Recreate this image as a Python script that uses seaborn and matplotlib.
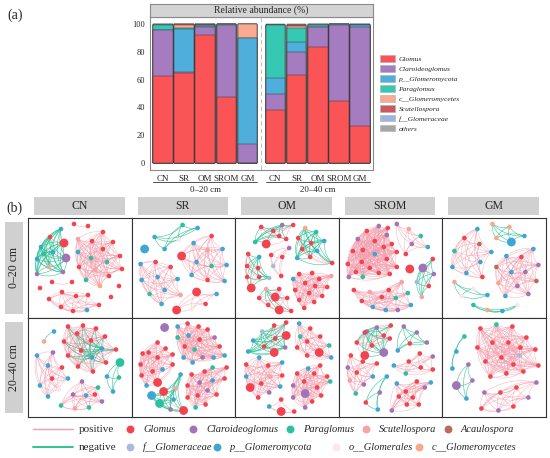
import matplotlib
matplotlib.use('Agg')
import matplotlib.pyplot as plt
from matplotlib.collections import LineCollection
import seaborn as sns
import pandas as pd
import numpy as np

# ---------------- panel (a) data ----------------
treatments = ['CN', 'SR', 'OM', 'SROM', 'GM']
depths = ['0–20 cm', '20–40 cm']
taxa_a = ['Glomus', 'Claroideoglomus', 'p__Glomeromycota', 'Paraglomus',
          'c__Glomeromycetes', 'Scutellospora', 'f__Glomeraceae', 'others']
# first five bars 0–20 cm, last five 20–40 cm
glomus = [62.6, 64.7, 92.3, 47.5, 0.3, 38.0, 63.5, 83.6, 44.5, 26.8]
claroideoglomus = [33.1, 0.4, 5.6, 52.0, 13.4, 11.3, 16.4, 14.3, 55.0, 71.2]
p_glomeromycota = [0.3, 31.1, 0.3, 0.1, 76.0, 11.7, 6.8, 0.2, 0.1, 1.2]
paraglomus = [3.3, 1.2, 1.3, 0.1, 0.0, 38.0, 10.7, 1.3, 0.1, 0.1]
c_glomeromycetes = [0.2, 2.1, 0.1, 0.1, 10.2, 0.3, 1.0, 0.1, 0.1, 0.1]
scutellospora = [0.1, 0.3, 0.1, 0.1, 0.0, 0.2, 1.1, 0.1, 0.0, 0.1]
f_glomeraceae = [0.1, 0.1, 0.1, 0.1, 0.0, 0.1, 0.1, 0.1, 0.1, 0.5]
others = [0.3, 0.1, 0.2, 0.1, 0.1, 0.4, 0.4, 0.3, 0.1, 0.0]
bar_colors = ['#FA5457', '#A57CC0', '#4FAEDB', '#35C9B4', '#F9AB92',
              '#C9595F', '#9CB4DF', '#A6A6A6']

# ---------------- panel (b) data ----------------
# node: (x, y, taxon, size, cluster) in cell pixel units; cluster '-' = no edges
taxa_b = {'G': ('Glomus', '#F2434F'), 'C': ('Claroideoglomus', '#A074B7'),
          'P': ('Paraglomus', '#2BBFA4'), 'S': ('Scutellospora', '#F7A2A4'),
          'A': ('Acaulospora', '#BA6A5E'), 'F': ('f__Glomeraceae', '#A9BADF'),
          'B': ('p__Glomeromycota', '#3EA6D2'), 'O': ('o__Glomerales', '#FCE6EA'),
          'M': ('c__Glomeromycetes', '#F7A98A')}

cn_top = [(33,11,'B',1,'A'),(22,19,'G',1,'A'),(36,25,'G',2,'A'),(13,29,'B',1,'A'),(25,34,'B',1,'A'),
          (16,36,'P',1,'A'),(9,41,'B',1,'A'),(21,49,'S',1,'A'),(9,56,'C',1,'A'),(35,54,'C',1,'A'),
          (38,40,'C',2,'A'),(46,6,'G',1,'T'),(60,8,'G',1,'T'),
          (75,14,'G',1,'B'),(50,21,'S',1,'B'),(64,23,'G',1,'B'),(85,24,'G',1,'B'),(50,34,'B',1,'B'),
          (75,31,'G',1,'B'),(63,40,'P',1,'B'),(92,38,'G',1,'B'),(79,44,'P',1,'B'),(51,49,'G',1,'B'),
          (67,52,'S',1,'B'),(94,51,'G',1,'B'),(81,58,'G',1,'B'),(58,62,'P',1,'B'),(72,68,'M',1,'B'),
          (12,70,'G',1,'-'),(24,64,'G',1,'L'),(44,64,'G',1,'L'),(91,68,'G',1,'-'),(83,79,'G',1,'-'),
          (34,74,'G',1,'C'),(48,78,'G',1,'C'),(60,77,'G',1,'C'),(21,81,'G',1,'C'),(71,87,'G',1,'C'),
          (33,89,'G',1,'C'),(45,93,'G',1,'C'),(59,92,'B',1,'C')]
sr_top = [(23,19,'B',1,'A'),(51,7,'P',1,'A'),(66,10,'B',1,'A'),(47,22,'O',1,'A'),(33,31,'B',1,'A'),
          (13,31,'B',2,'-'),
          (80,18,'G',1,'B'),(62,25,'B',1,'B'),(76,32,'S',1,'B'),(91,31,'B',1,'B'),(50,38,'G',2,'B'),
          (65,44,'B',1,'B'),(80,48,'P',1,'B'),(95,47,'B',1,'B'),(60,57,'B',1,'B'),(76,62,'G',1,'B'),
          (93,63,'B',1,'B'),
          (24,44,'G',1,'C'),(39,49,'G',1,'C'),(9,46,'B',1,'C'),(26,59,'B',1,'C'),(10,62,'B',1,'C'),
          (46,61,'B',1,'C'),(18,76,'P',1,'C'),(33,72,'B',1,'C'),(49,77,'S',1,'C'),(30,86,'B',1,'C'),
          (65,74,'G',2,'D'),(85,76,'B',1,'D'),(74,86,'G',1,'D'),(45,92,'G',2,'D'),(60,91,'O',1,'D')]
om_top = [(26,9,'G',1,'A'),(38,13,'G',1,'A'),(47,7,'C',1,'A'),(58,7,'G',1,'A'),(44,18,'G',1,'A'),
          (31,26,'G',2,'A'),(51,21,'G',1,'A'),(20,24,'P',1,'A'),
          (70,10,'M',1,'B'),(81,14,'P',1,'B'),(63,20,'G',1,'B'),(89,23,'B',1,'B'),(67,31,'G',1,'B'),
          (76,25,'G',1,'B'),(82,33,'B',1,'B'),(62,40,'B',1,'B'),(75,39,'G',1,'B'),(97,45,'G',1,'B'),
          (54,30,'C',1,'C'),(36,37,'G',1,'C'),(47,39,'G',1,'C'),(38,48,'F',1,'C'),(46,58,'G',1,'C'),
          (13,36,'G',1,'D'),(24,39,'B',1,'D'),(12,48,'G',1,'D'),(23,50,'G',1,'D'),(12,59,'G',1,'D'),
          (34,60,'F',1,'D'),(24,59,'G',1,'D'),(16,70,'G',2,'D'),
          (31,71,'S',1,'E'),(44,71,'G',1,'E'),(40,79,'G',2,'E'),(24,80,'G',1,'E'),(52,80,'G',1,'E'),
          (33,87,'G',1,'E'),(44,92,'G',2,'E'),(56,93,'G',1,'E'),
          (64,56,'G',1,'F'),(77,55,'G',1,'F'),(96,58,'S',1,'F'),(58,61,'B',1,'F'),(84,61,'G',1,'F'),
          (70,65,'G',1,'F'),(92,69,'G',1,'F'),(60,72,'G',1,'F'),(80,68,'G',1,'F'),(74,75,'G',1,'F'),
          (87,78,'G',1,'F'),(64,82,'G',1,'F'),(79,84,'G',1,'F'),(69,90,'G',1,'F')]
srom_top = [(28,13,'G',1,'A'),(40,8,'C',1,'A'),(49,10,'G',1,'A'),(19,21,'C',1,'A'),(36,23,'G',1,'A'),
            (48,17,'C',1,'A'),(14,33,'G',1,'A'),(24,32,'G',1,'A'),(45,29,'G',1,'A'),(53,26,'G',1,'A'),
            (58,34,'G',1,'A'),(36,36,'B',1,'A'),(9,46,'G',1,'A'),(23,44,'G',1,'A'),(48,41,'G',1,'A'),
            (58,49,'G',1,'A'),(17,54,'G',1,'A'),(31,50,'G',1,'A'),(40,55,'G',1,'A'),(10,59,'C',1,'A'),
            (24,59,'P',1,'A'),(51,56,'G',1,'A'),
            (58,6,'C',1,'B'),(70,11,'S',1,'B'),(82,18,'P',1,'B'),(73,26,'C',1,'B'),(89,29,'B',1,'B'),
            (67,36,'G',1,'B'),
            (84,50,'C',2,'C'),(94,41,'G',1,'C'),(95,56,'C',1,'C'),(78,64,'F',1,'C'),(90,68,'G',1,'C'),
            (83,79,'S',1,'C'),(71,51,'G',2,'-'),
            (15,72,'G',1,'D'),(31,74,'S',1,'D'),(23,83,'G',1,'D'),(43,79,'G',1,'D'),(63,64,'S',1,'D'),
            (50,72,'G',1,'D'),(57,80,'P',1,'D'),(69,75,'P',1,'D'),(34,89,'B',1,'D'),(47,92,'B',1,'D'),
            (59,92,'C',1,'D'),(72,87,'B',1,'D')]
gm_top = [(50,6,'M',1,'A'),(67,9,'M',1,'A'),(82,18,'B',1,'A'),(54,20,'M',1,'A'),(69,24,'B',2,'A'),
          (35,11,'B',1,'B'),(22,20,'G',1,'B'),(37,26,'A',1,'B'),(12,33,'P',1,'B'),(49,34,'B',1,'B'),
          (10,49,'B',1,'B'),(38,44,'B',1,'B'),(24,55,'B',1,'B'),(40,59,'G',1,'B'),
          (91,31,'B',1,'C'),(64,38,'B',1,'C'),(79,39,'G',1,'C'),(96,47,'C',1,'C'),(54,49,'A',1,'C'),
          (69,54,'B',1,'C'),(83,54,'C',1,'C'),(94,63,'A',1,'C'),(56,65,'M',1,'C'),(75,68,'C',1,'C'),
          (63,78,'B',1,'C'),(86,76,'C',1,'C'),
          (12,64,'M',1,'D'),(31,71,'O',1,'D'),(19,78,'O',1,'D'),(45,77,'B',1,'D'),
          (31,87,'P',1,'E'),(45,92,'M',1,'E'),(60,93,'B',1,'E'),(75,87,'O',1,'E')]
cn_bot = [(26,14,'B',1,'A'),(16,24,'M',1,'A'),
          (40,9,'G',1,'B'),(55,8,'G',1,'B'),(68,11,'G',1,'B'),(49,16,'G',1,'B'),(36,24,'G',1,'B'),
          (63,23,'G',1,'B'),(77,19,'G',1,'B'),(53,33,'G',1,'B'),(40,38,'G',1,'B'),(74,31,'B',1,'B'),
          (88,32,'G',1,'B'),(64,40,'B',1,'B'),(78,45,'G',1,'B'),(50,49,'G',1,'B'),(65,54,'G',1,'B'),
          (92,45,'P',2,'C'),(79,59,'B',1,'C'),(91,60,'P',1,'C'),(85,74,'B',1,'C'),
          (25,35,'C',1,'D'),(9,38,'B',1,'D'),(20,48,'B',1,'D'),(34,50,'G',1,'D'),(24,61,'G',1,'D'),
          (40,61,'B',1,'D'),(12,68,'B',1,'D'),(31,72,'O',1,'D'),(20,79,'B',1,'D'),
          (54,64,'C',1,'E'),(70,70,'P',1,'E'),(45,77,'C',1,'E'),(58,78,'B',1,'E'),(67,77,'G',1,'E'),
          (74,84,'C',1,'E'),(33,88,'P',1,'E'),(47,91,'S',1,'E'),(61,90,'P',1,'E')]
sr_bot = [(33,10,'C',2,'-'),
          (26,25,'G',1,'B'),(17,35,'G',1,'B'),(34,31,'G',1,'B'),(11,36,'G',1,'B'),(26,40,'G',1,'B'),
          (41,37,'G',1,'B'),(9,47,'G',1,'B'),(31,52,'B',1,'B'),(21,54,'G',1,'B'),(10,58,'G',1,'B'),
          (15,68,'B',1,'B'),(26,65,'G',2,'B'),(41,47,'G',1,'B'),
          (46,20,'P',1,'C'),(56,6,'G',1,'C'),(46,9,'B',1,'C'),(67,9,'G',1,'C'),(76,12,'G',1,'C'),
          (57,18,'B',1,'C'),(68,22,'G',1,'C'),(83,20,'C',1,'C'),(63,32,'P',1,'C'),(53,29,'G',1,'C'),
          (88,29,'G',1,'C'),(52,40,'B',1,'C'),(71,40,'C',1,'C'),(82,40,'B',1,'C'),(93,38,'B',1,'C'),
          (61,45,'B',1,'C'),
          (60,57,'G',1,'D'),(73,54,'G',1,'D'),(81,50,'P',1,'D'),(95,50,'G',1,'D'),(56,68,'G',1,'D'),
          (68,65,'C',1,'D'),(81,63,'B',1,'D'),(93,61,'G',1,'D'),(76,73,'C',1,'D'),(66,78,'G',1,'D'),
          (56,80,'G',1,'D'),(85,77,'G',1,'D'),(74,87,'G',1,'D'),(64,90,'P',1,'D'),
          (20,78,'B',2,'E'),(32,74,'G',2,'E'),(28,86,'P',2,'E'),(44,71,'S',1,'E'),(49,57,'B',1,'E'),
          (42,82,'B',1,'E'),(39,92,'C',1,'E'),(52,93,'G',2,'E')]
om_bot = [(13,34,'B',1,'A'),(18,23,'B',1,'A'),(27,14,'F',1,'A'),(39,8,'G',1,'A'),(51,5,'G',1,'A'),
          (51,18,'G',2,'A'),(40,21,'G',1,'A'),(29,29,'G',1,'A'),(50,30,'C',1,'A'),(39,35,'G',2,'A'),
          (64,6,'B',1,'B'),(75,11,'G',1,'B'),(65,19,'P',1,'B'),(85,19,'G',1,'B'),(72,24,'G',1,'B'),
          (62,30,'G',1,'B'),(94,28,'P',1,'B'),(72,38,'G',1,'B'),(84,35,'G',2,'B'),(96,40,'B',1,'B'),
          (24,40,'B',1,'C'),(11,47,'G',1,'C'),(33,48,'G',1,'C'),(47,45,'B',1,'C'),(35,59,'S',1,'C'),
          (47,58,'G',1,'C'),(11,59,'B',1,'C'),(26,66,'G',1,'C'),(45,69,'B',1,'C'),(15,70,'G',2,'C'),
          (34,75,'C',1,'C'),(23,80,'G',1,'C'),
          (73,51,'B',1,'D'),(85,48,'G',1,'D'),(62,56,'G',1,'D'),(79,56,'G',1,'D'),(92,59,'G',1,'D'),
          (58,68,'C',1,'D'),(69,64,'G',1,'D'),(95,64,'P',1,'D'),(82,70,'G',1,'D'),(70,76,'C',2,'D'),
          (86,78,'G',1,'D'),(58,80,'C',1,'D'),(77,84,'G',1,'D'),(70,90,'C',1,'D'),
          (34,89,'B',1,'E'),(46,82,'G',1,'E'),(46,94,'G',2,'E'),(59,94,'G',1,'E')]
srom_bot = [(28,14,'C',1,'A'),(38,10,'C',1,'A'),(52,8,'G',1,'A'),(18,25,'G',1,'A'),(26,15,'G',1,'A'),
            (45,18,'G',1,'A'),(33,28,'G',1,'A'),(51,21,'G',1,'A'),(26,38,'G',2,'A'),(45,35,'C',2,'A'),
            (65,9,'C',1,'B'),(78,15,'C',1,'B'),(71,26,'G',1,'B'),(88,25,'C',1,'B'),(59,33,'B',1,'B'),
            (12,38,'G',1,'C'),(9,50,'C',1,'C'),(24,44,'G',1,'C'),(38,46,'G',1,'C'),(11,63,'S',1,'C'),
            (18,55,'G',1,'C'),(34,59,'B',1,'C'),(25,67,'C',1,'C'),(17,76,'P',1,'C'),
            (55,48,'B',1,'D'),(70,44,'G',1,'D'),(81,36,'G',1,'D'),(94,39,'C',1,'D'),(82,50,'G',1,'D'),
            (67,56,'P',1,'D'),(94,52,'G',1,'D'),
            (48,59,'B',1,'E'),(41,75,'C',1,'E'),(27,85,'G',1,'E'),(39,92,'B',1,'E'),
            (58,66,'B',1,'F'),(78,64,'G',1,'F'),(92,65,'B',1,'F'),(67,74,'G',1,'F'),(86,70,'C',1,'F'),
            (60,79,'G',1,'F'),(74,80,'G',1,'F'),(68,87,'G',1,'F'),(53,93,'C',1,'F'),(80,87,'G',1,'F')]
gm_bot = [(22,19,'P',1,'A'),(14,34,'B',1,'A'),(10,51,'B',1,'A'),
          (26,47,'C',1,'B'),(14,68,'C',2,'B'),(30,63,'C',1,'B'),(24,81,'B',1,'B'),
          (38,11,'G',1,'C'),(54,7,'P',1,'C'),(70,9,'G',1,'C'),(84,20,'G',1,'C'),(35,30,'G',1,'C'),
          (50,25,'G',1,'C'),(66,25,'G',1,'C'),(93,32,'G',1,'C'),(78,30,'G',1,'C'),(43,44,'G',1,'C'),
          (59,40,'G',1,'C'),(77,38,'F',1,'C'),(96,48,'G',1,'C'),(71,47,'G',1,'C'),(48,59,'G',1,'C'),
          (64,56,'G',1,'C'),(81,54,'G',1,'C'),
          (94,65,'C',1,'D'),(42,75,'C',1,'D'),(58,75,'G',1,'D'),(74,70,'G',1,'D'),(86,80,'C',1,'D'),
          (39,91,'G',1,'D'),(56,93,'C',1,'D'),(71,89,'G',1,'D')]

# cluster edge sign: p = positive, n = negative, m = negative when a non-Glomus node is involved
cluster_sign = [[{'A': 'm', 'T': 'p', 'B': 'p', 'L': 'p', 'C': 'p'},
                 {'A': 'n', 'B': 'p', 'C': 'p', 'D': 'p'},
                 {'A': 'm', 'B': 'm', 'C': 'p', 'D': 'm', 'E': 'm', 'F': 'p'},
                 {'A': 'p', 'B': 'p', 'C': 'm', 'D': 'p'},
                 {'A': 'n', 'B': 'p', 'C': 'p', 'D': 'm', 'E': 'm'}],
                [{'A': 'n', 'B': 'm', 'C': 'n', 'D': 'p', 'E': 'p'},
                 {'B': 'p', 'C': 'p', 'D': 'p', 'E': 'm'},
                 {'A': 'm', 'B': 'p', 'C': 'p', 'D': 'p', 'E': 'p'},
                 {'A': 'm', 'B': 'm', 'C': 'p', 'D': 'p', 'E': 'n', 'F': 'p'},
                 {'A': 'n', 'B': 'n', 'C': 'p', 'D': 'p'}]]
networks = [[cn_top, sr_top, om_top, srom_top, gm_top],
            [cn_bot, sr_bot, om_bot, srom_bot, gm_bot]]

pos_col, neg_col = '#F39CAB', '#1FBE8C'

sns.set_theme(style='white')
plt.rcParams['font.family'] = ['Liberation Serif', 'DejaVu Serif']

W, H = 550, 458
fig = plt.figure(figsize=(5.5, 4.58), dpi=100)


def frac(x0, y0, x1, y1):
    return [x0 / W, 1 - y1 / H, (x1 - x0) / W, (y1 - y0) / H]


# ---------------- panel (a) ----------------
values = np.array([glomus, claroideoglomus, p_glomeromycota, paraglomus,
                   c_glomeromycetes, scutellospora, f_glomeraceae, others])
cum = values.cumsum(axis=0)
axl = fig.add_axes(frac(150, 17, 261.5, 170))
axr = fig.add_axes(frac(261.5, 17, 373, 170), sharey=axl)
for d, ax in enumerate([axl, axr]):
    for k in range(len(taxa_a) - 1, -1, -1):
        sns.barplot(x=treatments, y=cum[k, 5 * d:5 * d + 5], order=treatments, color=bar_colors[k],
                    width=0.92, saturation=1, edgecolor='#3a3a3a', linewidth=0.35,
                    errorbar=None, ax=ax)
    ax.set_ylim(-5, 105)
    ax.set_xlabel('')
    ax.set_ylabel('')
    ax.set_xticks(range(5))
    ax.set_xticklabels(treatments, fontsize=6.5)
    ax.tick_params(axis='both', length=2, width=0.5, color='#555555', pad=1.5)
    for s in ax.spines.values():
        s.set_color('#8a8a8a')
        s.set_linewidth(0.8)
    tr = ax.get_xaxis_transform()
    ax.plot([-0.45, 4.45], [-0.078, -0.078], color='#333333', lw=0.6, transform=tr, clip_on=False)
    ax.text(2, -0.105, depths[d], transform=tr, ha='center', va='top', fontsize=6.5)
axl.set_xlim(-0.6, 4.65)
axr.set_xlim(-0.65, 4.6)
axl.spines['right'].set_visible(False)
axr.spines['left'].set_visible(False)
axr.tick_params(axis='y', left=False, labelleft=False)
axl.set_yticks([0, 20, 40, 60, 80, 100])
axl.set_yticklabels(['0', '20', '40', '60', '80', '100'], fontsize=6)
axl.axvline(4.65, color='#BDBDBD', lw=1.4, ls=(0, (2.2, 1.6)), clip_on=False)
handles = [plt.Rectangle((0, 0), 1, 1, facecolor=c, edgecolor='#b0b0b0', lw=0.4) for c in bar_colors]
axr.legend(handles, taxa_a, loc='center left', bbox_to_anchor=(1.02, 0.5), frameon=False,
           handlelength=2.0, handleheight=0.95, labelspacing=0.42, handletextpad=0.5,
           borderaxespad=0.2, prop={'style': 'italic', 'size': 5.4})

sax = fig.add_axes(frac(150, 4, 373, 17))
sax.set_facecolor('#D4D4D4')
sax.set_xticks([])
sax.set_yticks([])
for s in sax.spines.values():
    s.set_color('#8a8a8a')
    s.set_linewidth(0.8)
sax.text(0.5, 0.5, 'Relative abundance (%)', ha='center', va='center', fontsize=7)
fig.text(7 / W, 1 - 15 / H, '(a)', ha='left', va='center', fontsize=10)

# ---------------- panel (b) ----------------
fig.text(6 / W, 1 - 208 / H, '(b)', ha='left', va='center', fontsize=10)
cw, ch = 103.6, 99.5
gx, gy = 28, 218


def arc(p, q, rad=0.22, n=14):
    mid = (p + q) / 2
    d = q - p
    ctrl = mid + rad * np.array([-d[1], d[0]])
    t = np.linspace(0, 1, n)[:, None]
    return (1 - t) ** 2 * p + 2 * (1 - t) * t * ctrl + t ** 2 * q


pal = {v[0]: v[1] for v in taxa_b.values()}
for r in range(2):
    for c in range(5):
        nodes = pd.DataFrame(networks[r][c], columns=['x', 'y', 'taxon', 'size', 'cluster'])
        x0, y0 = gx + c * cw, gy + r * ch
        cax = fig.add_axes(frac(x0, y0, x0 + cw, y0 + ch))
        pos_seg, neg_seg = [], []
        signs = cluster_sign[r][c]
        for cl, grp in nodes.groupby('cluster'):
            if cl == '-':
                continue
            pts = grp[['x', 'y']].to_numpy(float)
            tx = grp['taxon'].to_numpy()
            for i in range(len(pts)):
                for j in range(i + 1, len(pts)):
                    seg = arc(pts[i], pts[j])
                    sg = signs[cl]
                    neg = sg == 'n' or (sg == 'm' and (tx[i] != 'G' or tx[j] != 'G'))
                    (neg_seg if neg else pos_seg).append(seg)
        cax.add_collection(LineCollection(pos_seg, colors=pos_col, linewidths=0.38, alpha=0.75, zorder=1))
        cax.add_collection(LineCollection(neg_seg, colors=neg_col, linewidths=0.45, alpha=0.8, zorder=2))
        nodes['name'] = nodes['taxon'].map(lambda t: taxa_b[t][0])
        sns.scatterplot(data=nodes, x='x', y='y', hue='name', palette=pal, size='size',
                        sizes={1: 11, 2: 40}, legend=False, linewidth=0, ax=cax, zorder=3)
        cax.set_xlim(0, cw)
        cax.set_ylim(ch, 0)
        cax.set_xticks([])
        cax.set_yticks([])
        cax.set_xlabel('')
        cax.set_ylabel('')
        for s in cax.spines.values():
            s.set_color('#333333')
            s.set_linewidth(0.8)
        if r == 0:
            stx = fig.add_axes(frac(x0 + 6, 197, x0 + cw - 7, 215))
            stx.set_facecolor('#D0D0D0')
            stx.set_xticks([])
            stx.set_yticks([])
            for s in stx.spines.values():
                s.set_visible(False)
            stx.text(0.5, 0.5, treatments[c], ha='center', va='center', fontsize=8.5)
    sty = fig.add_axes(frac(5, gy + r * ch + 4, 23, gy + (r + 1) * ch - 4))
    sty.set_facecolor('#D0D0D0')
    sty.set_xticks([])
    sty.set_yticks([])
    for s in sty.spines.values():
        s.set_visible(False)
    sty.text(0.5, 0.5, depths[r], ha='center', va='center', rotation=90, fontsize=8.5)

# legend for panel (b)
lax = fig.add_axes(frac(0, 420, W, H))
lax.set_xlim(0, W)
lax.set_ylim(H, 420)
lax.axis('off')
for yy, col, lab in [(429, pos_col, 'positive'), (447, neg_col, 'negative')]:
    lax.plot([33, 73], [yy, yy], color=col, lw=1.3 if col == neg_col else 1.0)
    lax.text(79, yy, lab, ha='left', va='center', fontsize=8)
leg_items = [('G', 130, 429), ('C', 193, 429), ('P', 290, 429), ('S', 366, 429), ('A', 448, 429),
             ('F', 130, 447), ('B', 217, 447), ('O', 336, 447), ('M', 419, 447)]
for code, lx, ly in leg_items:
    name, col = taxa_b[code]
    lax.scatter([lx], [ly], s=32, color=col, linewidths=0)
    lax.text(lx + 13, ly, name, ha='left', va='center', fontsize=7.5, style='italic')

fig.savefig('out.png', dpi=100)
